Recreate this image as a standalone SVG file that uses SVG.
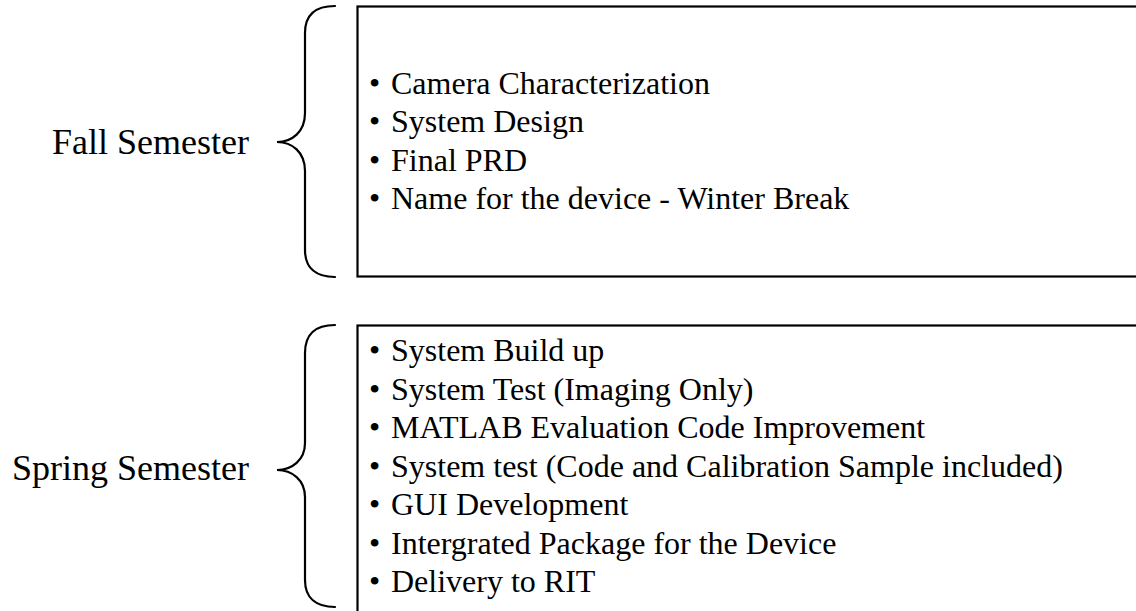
<svg xmlns="http://www.w3.org/2000/svg" width="1136" height="611" viewBox="0 0 1136 611">
<style>
.lbl{font-family:"Liberation Serif","Times New Roman",serif;font-size:36px;fill:#000}
.itm{font-family:"Liberation Serif","Times New Roman",serif;font-size:32px;fill:#000}
.box{fill:#fff;stroke:#000;stroke-width:2.2}
.brace{fill:none;stroke:#000;stroke-width:2.2;stroke-linecap:round}
</style>
<rect width="1136" height="611" fill="#fff"/>
<g id="fall">
<rect class="box" x="357.5" y="6.5" width="790" height="270"/>
<text class="lbl" x="52" y="154">Fall Semester</text>
<g class="itm">
<text x="369" y="93.5">•</text><text x="391" y="93.5">Camera Characterization</text>
<text x="369" y="132">•</text><text x="391" y="132">System Design</text>
<text x="369" y="170.5">•</text><text x="391" y="170.5">Final PRD</text>
<text x="369" y="209">•</text><text x="391" y="209">Name for the device - Winter Break</text>
</g>
</g>
<g id="spring">
<rect class="box" x="357.5" y="325.5" width="790" height="300"/>
<text class="lbl" x="12" y="480">Spring Semester</text>
<g class="itm">
<text x="369" y="361">•</text><text x="391" y="361">System Build up</text>
<text x="369" y="399.5">•</text><text x="391" y="399.5">System Test (Imaging Only)</text>
<text x="369" y="438">•</text><text x="391" y="438">MATLAB Evaluation Code Improvement</text>
<text x="369" y="476.5">•</text><text x="391" y="476.5">System test (Code and Calibration Sample included)</text>
<text x="369" y="515">•</text><text x="391" y="515">GUI Development</text>
<text x="369" y="553.5">•</text><text x="391" y="553.5">Intergrated Package for the Device</text>
<text x="369" y="592">•</text><text x="391" y="592">Delivery to RIT</text>
</g>
</g>
<g id="connectors">
<path class="brace" d="M335,6 C316,6 305,14 305,33 L305,113 C305,132 292,142 277,142 C292,142 305,152 305,171 L305,250 C305,268 316,277 335,277"/>
<path class="brace" d="M335,325 C316,325 305,334 305,353 L305,443 C305,460 292,470 277,470 C292,470 305,480 305,497 L305,580 C305,598 316,607 335,607"/>
</g>
</svg>
